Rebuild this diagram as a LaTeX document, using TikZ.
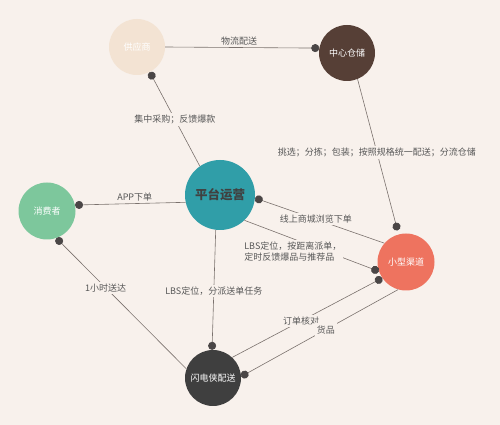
\documentclass[tikz,border=0pt]{standalone}
\usepackage{fontspec}
\setmainfont{Noto Sans CJK SC}
\usetikzlibrary{arrows.meta, positioning}
\definecolor{bgc}{HTML}{F8F1EC}
\definecolor{linec}{HTML}{7B726E}
\definecolor{dotc}{HTML}{4A4646}
\definecolor{textc}{HTML}{575757}
\definecolor{supc}{HTML}{F3E3D3}
\definecolor{whc}{HTML}{563F36}
\definecolor{platc}{HTML}{309EA8}
\definecolor{conc}{HTML}{7DC79C}
\definecolor{chc}{HTML}{EE735F}
\definecolor{flc}{HTML}{3F3F3F}

\begin{document}
\begin{tikzpicture}[x=1pt, y=1pt,
    hub/.style={circle, inner sep=0pt, minimum size=56pt, text=white, font=\fontsize{9}{11}\selectfont},
    link/.style={draw=linec, line width=0.6pt, -{Circle[length=8pt, color=dotc]}},
    lbl/.style={fill=bgc, text=textc, inner sep=2pt, font=\fontsize{9}{11}\selectfont}]
    \fill[bgc] (0,0) rectangle (500,425);
    % nodes
    \node[hub, fill=supc] (sup) at (137,378) {供应商};
    \node[hub, fill=whc] (wh) at (347,372) {中心仓储};
    \node[hub, fill=platc, minimum size=70pt, text=black!75, font=\fontsize{12.5}{14}\selectfont\bfseries] (plat) at (220,230) {平台运营};
    \node[hub, fill=conc, minimum size=57pt] (con) at (47,214) {消费者};
    \node[hub, fill=chc, minimum size=57pt] (ch) at (406,163) {小型渠道};
    \node[hub, fill=flc] (fl) at (213,47) {闪电侠配送};
    % links
    \draw[link] (sup.0) -- node[lbl, above, fill=none, pos=.48] {物流配送} (wh.170);
    \draw[link] (plat.125) -- node[lbl, pos=.5] {集中采购；反馈爆款} (sup.-63);
    \draw[link, shorten >=4pt] (wh.-68) -- node[lbl, pos=.47] {挑选；分拣；包装；按照规格统一配送；分流仓储} (ch.105);
    \draw[link] (ch.139) -- node[lbl, pos=.53] {线上商城浏览下单} (plat.-5);
    \draw[link] (plat.-168) -- node[lbl, above, fill=none, pos=.46] {APP下单} (con.12);
    \draw[link] (plat.-46) -- node[lbl, pos=.36, yshift=-13pt, align=left] {LBS定位，按距离派单，\\定时反馈爆品与推荐品} (ch.-161);
    \draw[link] (plat.-97) -- node[lbl, pos=.51] {LBS定位，分派送单任务} (fl.92);
    \draw[link] (fl.161) -- node[lbl, pos=.62] {1小时送达} (con.-71.5);
    \draw[link] (fl.47) -- node[lbl, pos=.46] {订单核对} (ch.-146);
    \draw[link] (ch.-106.5) -- node[lbl, pos=.46] {货品} (fl.3.5);
\end{tikzpicture}
\end{document}
